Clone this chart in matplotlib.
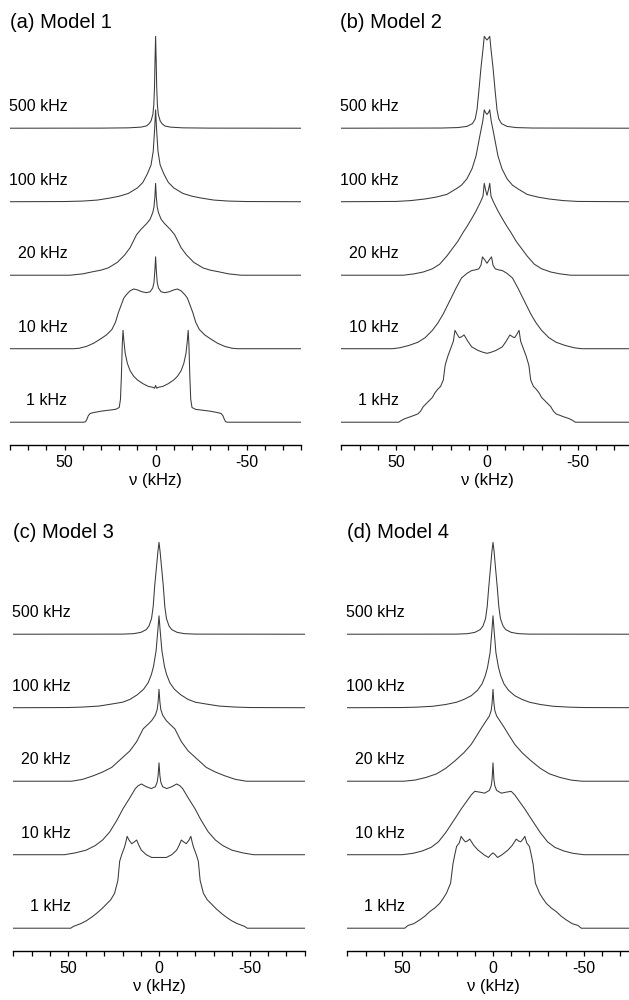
import matplotlib
matplotlib.use("Agg")
import matplotlib.pyplot as plt
import numpy as np

plt.rcParams['font.family'] = ['Liberation Sans', 'DejaVu Sans']

# exchange rates, bottom trace first
rates = ['1 kHz', '10 kHz', '20 kHz', '100 kHz', '500 kHz']
titles = ['(a) Model 1', '(b) Model 2', '(c) Model 3', '(d) Model 4']

# half spectra: nu >= 0 (kHz), height relative to tallest point
# model 1
m1_1_nu = [0, 0.6, 1.5, 4, 7, 10, 12, 14, 15.5, 16.7, 17.4, 17.9, 18.3, 18.8, 19.3, 20, 22, 26, 30, 34, 36, 37, 37.8, 38.5, 39.5, 80]
m1_1_h = [0.40, 0.37, 0.38, 0.39, 0.42, 0.46, 0.5, 0.56, 0.64, 0.75, 0.88, 1.0, 0.85, 0.5, 0.25, 0.16, 0.14, 0.13, 0.12, 0.105, 0.095, 0.07, 0.03, 0.005, 0, 0]
m1_10_nu = [0, 0.4, 0.9, 1.6, 3, 5, 7.5, 10, 12, 14, 16, 17.5, 19, 20.5, 22, 24, 27, 30, 34, 38, 42, 45, 80]
m1_10_h = [1.0, 0.85, 0.72, 0.66, 0.62, 0.61, 0.62, 0.64, 0.65, 0.63, 0.59, 0.55, 0.47, 0.39, 0.29, 0.21, 0.15, 0.11, 0.06, 0.025, 0.005, 0, 0]
m1_20_nu = [0, 0.4, 0.9, 1.6, 3, 5, 8, 10.5, 12, 14, 17, 21, 26, 30, 34, 40, 47, 80]
m1_20_h = [1.0, 0.85, 0.74, 0.68, 0.61, 0.56, 0.5, 0.44, 0.38, 0.3, 0.22, 0.14, 0.08, 0.055, 0.04, 0.015, 0, 0]
m1_100_nu = [0, 0.5, 1.3, 2.5, 4.6, 7, 10, 15, 20, 25, 32, 40, 50, 80]
m1_100_h = [1.0, 0.8, 0.55, 0.4, 0.3, 0.21, 0.15, 0.09, 0.06, 0.04, 0.018, 0.007, 0.002, 0]
m1_500_nu = [0, 0.3, 0.6, 1, 1.5, 2.5, 3.5, 5, 8, 15, 30, 80]
m1_500_h = [1.0, 0.75, 0.45, 0.25, 0.15, 0.08, 0.05, 0.025, 0.012, 0.004, 0.001, 0]

# model 2
m2_1_nu = [0, 2, 4.8, 8.4, 10.5, 12.6, 14, 15.2, 16.5, 17.6, 18.5, 20, 21.5, 23, 24, 25.5, 27, 28.6, 30, 31.5, 33, 35, 36.5, 38, 40, 42, 45, 47, 48.5, 80]
m2_1_h = [0.75, 0.76, 0.78, 0.82, 0.88, 0.95, 0.93, 0.92, 0.96, 1.0, 0.88, 0.8, 0.72, 0.62, 0.46, 0.39, 0.36, 0.32, 0.27, 0.24, 0.21, 0.17, 0.12, 0.09, 0.075, 0.06, 0.04, 0.02, 0, 0]
m2_10_nu = [0, 1, 2.5, 3.3, 4.5, 6, 8.5, 11, 14, 17, 19.5, 22, 24, 27, 30, 34, 38, 43, 48, 52, 80]
m2_10_h = [0.93, 0.96, 1.0, 0.91, 0.87, 0.86, 0.85, 0.82, 0.77, 0.66, 0.56, 0.46, 0.38, 0.28, 0.2, 0.12, 0.07, 0.035, 0.01, 0, 0]
m2_20_nu = [0, 0.8, 1.5, 2.2, 3.5, 6, 8, 11, 13, 16, 19, 22, 26, 30, 35, 40, 46, 80]
m2_20_h = [0.87, 0.93, 1.0, 0.86, 0.8, 0.7, 0.63, 0.53, 0.47, 0.37, 0.29, 0.21, 0.12, 0.07, 0.035, 0.015, 0, 0]
m2_100_nu = [0, 0.8, 1.5, 2.3, 3.8, 6, 8.2, 11, 14, 17, 22, 28, 34, 42, 50, 80]
m2_100_h = [0.95, 0.97, 1.0, 0.88, 0.73, 0.5, 0.36, 0.25, 0.18, 0.14, 0.08, 0.05, 0.03, 0.012, 0.003, 0]
m2_500_nu = [0, 0.8, 1.5, 2.2, 3.3, 4.5, 5.5, 6.5, 8, 11, 16, 25, 80]
m2_500_h = [0.96, 0.98, 1.0, 0.86, 0.66, 0.4, 0.2, 0.1, 0.05, 0.02, 0.007, 0.002, 0]

# model 3
m3_1_nu = [0, 4, 7, 9.7, 11, 12.3, 13.5, 15, 16.5, 17.5, 18.3, 19, 20.5, 21.6, 22.6, 24.4, 26.5, 29, 31.5, 34.4, 37, 40, 43, 47, 48.5, 80]
m3_1_h = [0.77, 0.77, 0.8, 0.85, 0.9, 0.96, 0.94, 0.92, 0.96, 1.0, 0.93, 0.88, 0.8, 0.73, 0.52, 0.38, 0.31, 0.26, 0.21, 0.16, 0.12, 0.08, 0.05, 0.02, 0, 0]
m3_10_nu = [0, 0.5, 1, 2, 4.2, 7, 9.7, 11.5, 13, 16, 19.8, 23, 27, 31, 35, 40, 46, 52, 80]
m3_10_h = [1.0, 0.86, 0.79, 0.74, 0.72, 0.74, 0.77, 0.75, 0.72, 0.62, 0.5, 0.38, 0.25, 0.16, 0.1, 0.05, 0.02, 0, 0]
m3_20_nu = [0, 0.5, 1, 2, 4, 6, 8.7, 10.5, 12.3, 16, 21, 26, 31, 36, 42, 48, 80]
m3_20_h = [1.0, 0.86, 0.78, 0.72, 0.66, 0.62, 0.57, 0.5, 0.43, 0.33, 0.24, 0.15, 0.1, 0.06, 0.02, 0, 0]
m3_100_nu = [0, 0.6, 1.6, 3, 4.2, 6, 8.5, 12, 16, 20, 26, 33, 42, 50, 80]
m3_100_h = [1.0, 0.85, 0.62, 0.45, 0.36, 0.27, 0.2, 0.14, 0.09, 0.06, 0.04, 0.018, 0.007, 0.002, 0]
m3_500_nu = [0, 0.6, 1.3, 2.3, 3.2, 4.1, 5.5, 7, 10, 14, 20, 80]
m3_500_h = [1.0, 0.9, 0.75, 0.54, 0.3, 0.17, 0.09, 0.05, 0.02, 0.006, 0.001, 0]

# model 4
m4_1_nu = [0, 1.2, 2.5, 5, 8.2, 10.5, 12.8, 14, 15.2, 16.5, 17.5, 18.5, 20, 21, 22, 23.3, 25.6, 27.5, 29.3, 32, 34.8, 37.5, 40.3, 43.5, 46.7, 48.5, 80]
m4_1_h = [0.82, 0.8, 0.77, 0.8, 0.85, 0.9, 0.97, 0.95, 0.94, 0.97, 1.0, 0.93, 0.89, 0.8, 0.7, 0.49, 0.38, 0.32, 0.27, 0.22, 0.18, 0.13, 0.09, 0.05, 0.03, 0, 0]
m4_10_nu = [0, 0.5, 1, 2, 4.6, 7, 10, 12, 14.5, 17.4, 20, 23, 26, 30, 34, 39, 44, 50, 80]
m4_10_h = [1.0, 0.82, 0.75, 0.7, 0.67, 0.68, 0.69, 0.65, 0.58, 0.5, 0.42, 0.33, 0.24, 0.14, 0.08, 0.04, 0.015, 0, 0]
m4_20_nu = [0, 0.5, 1, 2, 4, 6, 8.8, 12, 16, 21, 26, 31, 37, 43, 49, 80]
m4_20_h = [1.0, 0.85, 0.77, 0.71, 0.65, 0.59, 0.5, 0.4, 0.31, 0.22, 0.14, 0.08, 0.04, 0.012, 0, 0]
m4_100_nu = [0, 0.6, 1.6, 3, 4.2, 6, 8.5, 12, 16, 20, 26, 33, 42, 50, 80]
m4_100_h = [1.0, 0.84, 0.6, 0.44, 0.35, 0.26, 0.19, 0.13, 0.09, 0.06, 0.035, 0.016, 0.006, 0.002, 0]
m4_500_nu = [0, 0.6, 1.3, 2.3, 3.2, 4.1, 5.5, 7, 10, 14, 20, 80]
m4_500_h = [1.0, 0.9, 0.74, 0.52, 0.3, 0.17, 0.09, 0.05, 0.02, 0.006, 0.001, 0]

models = [
    [(m1_1_nu, m1_1_h), (m1_10_nu, m1_10_h), (m1_20_nu, m1_20_h), (m1_100_nu, m1_100_h), (m1_500_nu, m1_500_h)],
    [(m2_1_nu, m2_1_h), (m2_10_nu, m2_10_h), (m2_20_nu, m2_20_h), (m2_100_nu, m2_100_h), (m2_500_nu, m2_500_h)],
    [(m3_1_nu, m3_1_h), (m3_10_nu, m3_10_h), (m3_20_nu, m3_20_h), (m3_100_nu, m3_100_h), (m3_500_nu, m3_500_h)],
    [(m4_1_nu, m4_1_h), (m4_10_nu, m4_10_h), (m4_20_nu, m4_20_h), (m4_100_nu, m4_100_h), (m4_500_nu, m4_500_h)],
]


def mirror(nu, h):
    nu = np.asarray(nu, float)
    h = np.asarray(h, float)
    x = np.concatenate([-nu[::-1], nu[1:]])
    y = np.concatenate([h[::-1], h[1:]])
    return x, y


W, H = 629, 1000
fig = plt.figure(figsize=(W / 100, H / 100), dpi=100)

# axes: left edge px, bottom spine px
boxes = [(10.0, 445), (341.4, 445), (13.4, 951), (347.4, 951)]
title_pos = [(10, 22), (340, 22), (13, 533), (347, 533)]
ax_w = 291.2
ax_h = 415
scale = 1.25     # peak height in units of trace spacing
ybot = -0.31

for k in range(4):
    left, spine = boxes[k]
    ax = fig.add_axes([left / W, 1 - spine / H, ax_w / W, ax_h / H])
    for i, (nu, h) in enumerate(models[k]):
        x, y = mirror(nu, h)
        ax.plot(x, i + scale * y, color='#3a3a3a', lw=0.75)
        ax.text(48.5, i + 0.29, rates[i], ha='right', va='center', fontsize=11.5)
    ax.set_xlim(80, -80)
    ax.set_ylim(ybot, ybot + ax_h / 73.5)
    for s in ['left', 'right', 'top']:
        ax.spines[s].set_visible(False)
    ax.spines['bottom'].set_linewidth(1.0)
    ax.set_yticks([])
    ax.set_xticks([50, 0, -50])
    ax.set_xticklabels(['50', '0', '-50'])
    ax.set_xticks(np.arange(-80, 81, 10), minor=True)
    ax.tick_params(axis='x', which='both', direction='out', length=3.6, width=0.9,
                   labelsize=11.5, pad=3.5)
    ax.set_xlabel('ν (kHz)', fontsize=12, labelpad=2.5)
    ax.patch.set_visible(False)
    tx, ty = title_pos[k]
    fig.text(tx / W, 1 - ty / H, titles[k], ha='left', va='center', fontsize=14.5)

fig.savefig('out.png', dpi=100)
